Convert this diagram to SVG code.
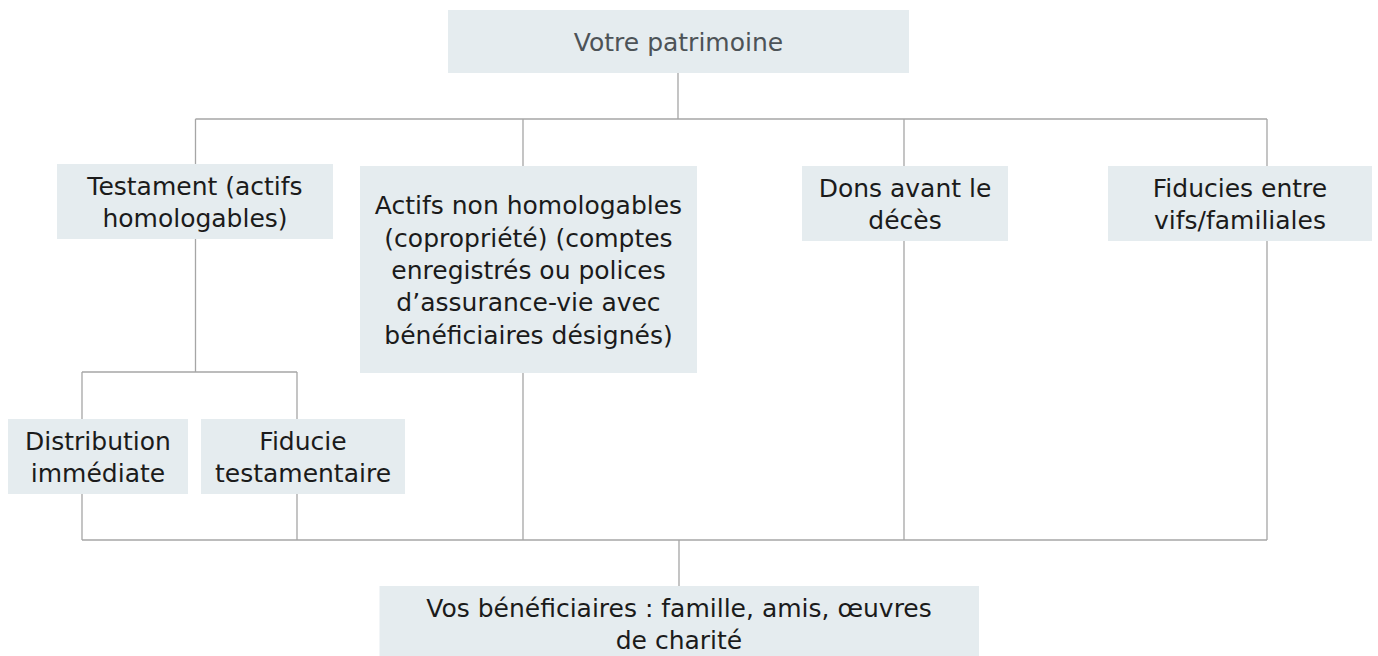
<svg xmlns="http://www.w3.org/2000/svg" width="1378" height="656" viewBox="0 0 1378 656">
<style>
.box{fill:#e5ecef}
.t{font-family:"DejaVu Sans",Verdana,sans-serif;font-size:25px;fill:#1b1b1b;text-anchor:middle}
.top{fill:#4d5357}
.conn{fill:none;stroke:#a6a6a6;stroke-width:1.3}
</style>
<rect width="1378" height="656" fill="#ffffff"/>
<g id="connectors" class="conn">
<path d="M678 73V119M195.5 119H1267M195.5 119V164M523 119V166M904 119V166M1267 119V166"/>
<path d="M195.5 239V372M82 372H297M82 372V419M297 372V419"/>
<path d="M82 494V540M297 494V540M523 373V540M904 241V540M1267 241V540M82 540H1267M679 540V586"/>
</g>
<g id="n-patrimoine">
<rect class="box" x="448" y="10" width="461" height="63"/>
<text class="t top" x="678.5" y="51">Votre patrimoine</text>
</g>
<g id="n-testament">
<rect class="box" x="57" y="164" width="276" height="75"/>
<text class="t" x="195" y="195">Testament (actifs</text>
<text class="t" x="195" y="227">homologables)</text>
</g>
<g id="n-actifs">
<rect class="box" x="360" y="166" width="337" height="207"/>
<text class="t" x="528.5" y="214">Actifs non homologables</text>
<text class="t" x="528.5" y="246.5">(copropriété) (comptes</text>
<text class="t" x="528.5" y="279">enregistrés ou polices</text>
<text class="t" x="528.5" y="311">d’assurance-vie avec</text>
<text class="t" x="528.5" y="343.5">bénéficiaires désignés)</text>
</g>
<g id="n-dons">
<rect class="box" x="802" y="166" width="206" height="75"/>
<text class="t" x="905" y="197">Dons avant le</text>
<text class="t" x="905" y="229">décès</text>
</g>
<g id="n-fiducies">
<rect class="box" x="1108" y="166" width="264" height="75"/>
<text class="t" x="1240" y="197">Fiducies entre</text>
<text class="t" x="1240" y="229">vifs/familiales</text>
</g>
<g id="n-distribution">
<rect class="box" x="8" y="419" width="180" height="75"/>
<text class="t" x="98" y="450">Distribution</text>
<text class="t" x="98" y="482">immédiate</text>
</g>
<g id="n-fiducie-test">
<rect class="box" x="201" y="419" width="204" height="75"/>
<text class="t" x="303" y="450">Fiducie</text>
<text class="t" x="303" y="482">testamentaire</text>
</g>
<g id="n-beneficiaires">
<rect class="box" x="379.5" y="586" width="599.5" height="72"/>
<text class="t" x="679" y="617">Vos bénéficiaires : famille, amis, œuvres</text>
<text class="t" x="679" y="649">de charité</text>
</g>
</svg>
